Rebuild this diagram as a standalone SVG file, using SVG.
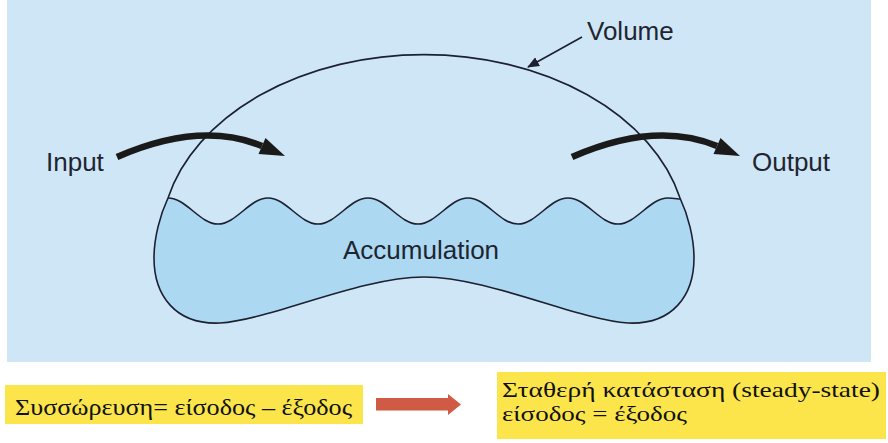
<svg xmlns="http://www.w3.org/2000/svg" width="888" height="443" viewBox="0 0 888 443">
  <style>
    .lbl { font-family: "Liberation Sans", Arial, sans-serif; font-size: 26px; fill: #1e2530; }
    .gr { font-family: "Liberation Serif", "DejaVu Serif", serif; fill: #111; }
    .outline { fill: none; stroke: #1c2030; stroke-width: 1.6; stroke-linejoin: round; }
    .flow { fill: none; stroke: #1a1a1a; stroke-width: 6.5; stroke-linecap: butt; }
    .head { fill: #1a1a1a; }
    .box { fill: #fbe54b; }
  </style>
  <defs>
    <marker id="leadHead" viewBox="0 0 12 10" refX="11" refY="5" markerWidth="12" markerHeight="10" markerUnits="userSpaceOnUse" orient="auto">
      <path d="M0,0 L12,5 L0,10 Z" fill="#1c2030"/>
    </marker>
  </defs>

  <rect x="7" y="0" width="864" height="362" fill="#cfe6f7"/>

  <g id="tank">
    <path id="water" fill="#acd8f2" d="M168,198 C186.2,198 199.8,224 218,224 C236.2,224 249.8,198 268,198 C286.2,198 299.8,224 318,224 C336.2,224 349.8,198 368,198 C386.2,198 399.8,224 418,224 C436.2,224 449.8,198 468,198 C486.2,198 499.8,224 518,224 C536.2,224 549.8,198 568,198 C586.2,198 599.8,224 618,224 C636.2,224 649.8,198 668,198 C672,198 676,198.6 680,199 C688,215 694,238 694,258 C694,295 673,325 628,323 C578,320 488,277 424,277 C360,277 270,320 220,323 C175,325 154,295 154,258 C154,238 160,215 168,198 Z"/>
    <path class="outline" d="M168,198 C186.2,198 199.8,224 218,224 C236.2,224 249.8,198 268,198 C286.2,198 299.8,224 318,224 C336.2,224 349.8,198 368,198 C386.2,198 399.8,224 418,224 C436.2,224 449.8,198 468,198 C486.2,198 499.8,224 518,224 C536.2,224 549.8,198 568,198 C586.2,198 599.8,224 618,224 C636.2,224 649.8,198 668,198 C672,198 676,198.6 680,199"/>
    <path class="outline" d="M168,198 A263,186 0 0 1 680,198 C688,215 694,238 694,258 C694,295 673,325 628,323 C578,320 488,277 424,277 C360,277 270,320 220,323 C175,325 154,295 154,258 C154,238 160,215 168,198 Z"/>
  </g>

  <g id="volume-label">
    <text class="lbl" x="587" y="40">Volume</text>
  </g>
  <g id="input">
    <text class="lbl" x="46" y="171">Input</text>
  </g>
  <g id="output">
    <text class="lbl" x="752" y="171">Output</text>
  </g>
  <g id="accumulation">
    <text class="lbl" x="343" y="259">Accumulation</text>
  </g>

  <g id="connectors">
    <line x1="582" y1="37" x2="528" y2="67" stroke="#1c2030" stroke-width="1.6" marker-end="url(#leadHead)"/>
    <g id="input-arrow">
      <path class="flow" d="M117,157 Q200.5,120.5 262,146"/>
      <path class="head" d="M265.5,138 L285,156 L258.5,154 Z"/>
    </g>
    <g id="output-arrow" transform="translate(455,0)">
      <path class="flow" d="M117,157 Q200.5,120.5 262,146"/>
      <path class="head" d="M265.5,138 L285,156 L258.5,154 Z"/>
    </g>
    <path id="steady-arrow" d="M376,398 L448,398 L448,394 L461,404.5 L448,415 L448,410.5 L376,410.5 Z" fill="#cf5b45"/>
  </g>

  <g id="box-balance">
    <rect class="box" x="5" y="385" width="358" height="39"/>
    <text class="gr" x="15" y="415" font-size="24" textLength="337" lengthAdjust="spacingAndGlyphs">Συσσώρευση= είσοδος – έξοδος</text>
  </g>
  <g id="box-steady">
    <rect class="box" x="497" y="372" width="389" height="67"/>
    <text class="gr" x="502" y="397" font-size="22" textLength="378" lengthAdjust="spacingAndGlyphs">Σταθερή κατάσταση (steady-state)</text>
    <text class="gr" x="502" y="421" font-size="22" textLength="185" lengthAdjust="spacingAndGlyphs">είσοδος = έξοδος</text>
  </g>
</svg>
